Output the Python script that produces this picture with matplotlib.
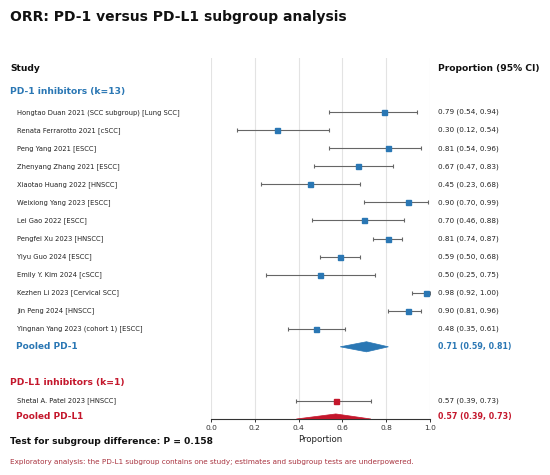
import matplotlib
matplotlib.use("Agg")
import matplotlib.pyplot as plt
import matplotlib.transforms as mtransforms
from matplotlib.patches import Polygon

# ---- data ----
pd1_studies = [
    "Hongtao Duan 2021 (SCC subgroup) [Lung SCC]",
    "Renata Ferrarotto 2021 [cSCC]",
    "Peng Yang 2021 [ESCC]",
    "Zhenyang Zhang 2021 [ESCC]",
    "Xiaotao Huang 2022 [HNSCC]",
    "Weixiong Yang 2023 [ESCC]",
    "Lei Gao 2022 [ESCC]",
    "Pengfei Xu 2023 [HNSCC]",
    "Yiyu Guo 2024 [ESCC]",
    "Emily Y. Kim 2024 [cSCC]",
    "Kezhen Li 2023 [Cervical SCC]",
    "Jin Peng 2024 [HNSCC]",
    "Yingnan Yang 2023 (cohort 1) [ESCC]",
]
pd1_est = [0.79, 0.30, 0.81, 0.67, 0.45, 0.90, 0.70, 0.81, 0.59, 0.50, 0.98, 0.90, 0.48]
pd1_lo = [0.54, 0.12, 0.54, 0.47, 0.23, 0.70, 0.46, 0.74, 0.50, 0.25, 0.92, 0.81, 0.35]
pd1_hi = [0.94, 0.54, 0.96, 0.83, 0.68, 0.99, 0.88, 0.87, 0.68, 0.75, 1.00, 0.96, 0.61]
pd1_pooled = [0.71, 0.59, 0.81]

pdl1_studies = ["Shetal A. Patel 2023 [HNSCC]"]
pdl1_est = [0.57]
pdl1_lo = [0.39]
pdl1_hi = [0.73]
pdl1_pooled = [0.57, 0.39, 0.73]

p_diff = "0.158"
xticks = [0.0, 0.2, 0.4, 0.6, 0.8, 1.0]

BLUE = "#2a77b4"
RED = "#c4172c"
GRAY = "#666666"

fig = plt.figure(figsize=(5.5, 4.75), dpi=100)
ax = fig.add_axes([211/550, 1-419/475, 219/550, 361/475])
ax.set_xlim(0, 1)
ax.set_ylim(17, -3)

for s in ["top", "right", "left"]:
    ax.spines[s].set_visible(False)
ax.spines["bottom"].set_color("#333333")
ax.spines["bottom"].set_linewidth(0.8)
ax.set_yticks([])
ax.set_xticks(xticks)
ax.set_xticklabels([f"{t:.1f}" for t in xticks], fontsize=5.4, color="#333333")
ax.tick_params(axis="x", length=2.5, width=0.7, pad=2, colors="#333333")
ax.xaxis.grid(True, color="#e3e3e3", lw=0.8)
ax.set_axisbelow(True)
ax.set_xlabel("Proportion", fontsize=6.2, color="#222222", labelpad=2.5)

tr = mtransforms.blended_transform_factory(fig.transFigure, ax.transData)
xl_name = 17/550
xl_head = 10/550
xr = 438/550

def fmt(e, l, h):
    return f"{e:.2f} ({l:.2f}, {h:.2f})"

def diamond(y, e, l, h, color, hh=0.28):
    poly = Polygon([[l, y], [e, y-hh], [h, y], [e, y+hh]], closed=True,
                   facecolor=color, edgecolor=color, lw=0.5, zorder=3)
    ax.add_patch(poly)

# headers
ax.text(xl_head, -2.44, "Study", transform=tr, fontsize=6.6, fontweight="bold",
        va="center", ha="left", color="#111111")
ax.text(xr, -2.44, "Proportion (95% CI)", transform=tr, fontsize=6.6, fontweight="bold",
        va="center", ha="left", color="#111111")
ax.text(xl_head, -1.17, "PD-1 inhibitors (k=13)", transform=tr, fontsize=6.6,
        fontweight="bold", va="center", ha="left", color=BLUE)

# PD-1 rows
for i, (n, e, l, h) in enumerate(zip(pd1_studies, pd1_est, pd1_lo, pd1_hi)):
    y = i
    ax.errorbar([e], [y], xerr=[[e-l], [h-e]], fmt="none", ecolor=GRAY,
                elinewidth=0.8, capsize=1.5, capthick=0.8, zorder=2)
    ax.plot([e], [y], marker="s", ms=3.6, color=BLUE, zorder=3, clip_on=False)
    ax.text(xl_name, y, n, transform=tr, fontsize=4.9, va="center", ha="left",
            color="#222222")
    ax.text(xr, y, fmt(e, l, h), transform=tr, fontsize=5.2, va="center",
            ha="left", color="#222222")

yp1 = len(pd1_studies)
diamond(yp1, *pd1_pooled, BLUE)
ax.text(xl_head + 6/550, yp1, "Pooled PD-1", transform=tr, fontsize=6.4,
        fontweight="bold", va="center", ha="left", color=BLUE)
ax.text(xr, yp1, fmt(*pd1_pooled), transform=tr, fontsize=5.7,
        fontweight="bold", va="center", ha="left", color=BLUE)

# PD-L1
yh2 = yp1 + 2
ax.text(xl_head, yh2, "PD-L1 inhibitors (k=1)", transform=tr, fontsize=6.6,
        fontweight="bold", va="center", ha="left", color=RED)
for j, (n, e, l, h) in enumerate(zip(pdl1_studies, pdl1_est, pdl1_lo, pdl1_hi)):
    y = yh2 + 1 + j
    ax.errorbar([e], [y], xerr=[[e-l], [h-e]], fmt="none", ecolor=GRAY,
                elinewidth=0.8, capsize=1.5, capthick=0.8, zorder=2)
    ax.plot([e], [y], marker="s", ms=3.6, color=RED, zorder=3)
    ax.text(xl_name, y, n, transform=tr, fontsize=4.9, va="center", ha="left",
            color="#222222")
    ax.text(xr, y, fmt(e, l, h), transform=tr, fontsize=5.2, va="center",
            ha="left", color="#222222")

yp2 = yh2 + 1 + len(pdl1_studies)
diamond(yp2, *pdl1_pooled, RED)
ax.text(xl_head + 6/550, yp2 - 0.15, "Pooled PD-L1", transform=tr, fontsize=6.4,
        fontweight="bold", va="center", ha="left", color=RED)
ax.text(xr, yp2 - 0.15, fmt(*pdl1_pooled), transform=tr, fontsize=5.7,
        fontweight="bold", va="center", ha="left", color=RED)

# title & footer
fig.text(10/550, 1-17/475, "ORR: PD-1 versus PD-L1 subgroup analysis",
         fontsize=10, fontweight="bold", va="center", ha="left", color="#111111")
fig.text(10/550, 1-442/475, f"Test for subgroup difference: P = {p_diff}",
         fontsize=6.6, fontweight="bold", va="center", ha="left", color="#111111")
fig.text(10/550, 1-462/475,
         "Exploratory analysis: the PD-L1 subgroup contains one study; estimates and subgroup tests are underpowered.",
         fontsize=5.2, va="center", ha="left", color="#a8323e")

fig.savefig("out.png", dpi=100)
